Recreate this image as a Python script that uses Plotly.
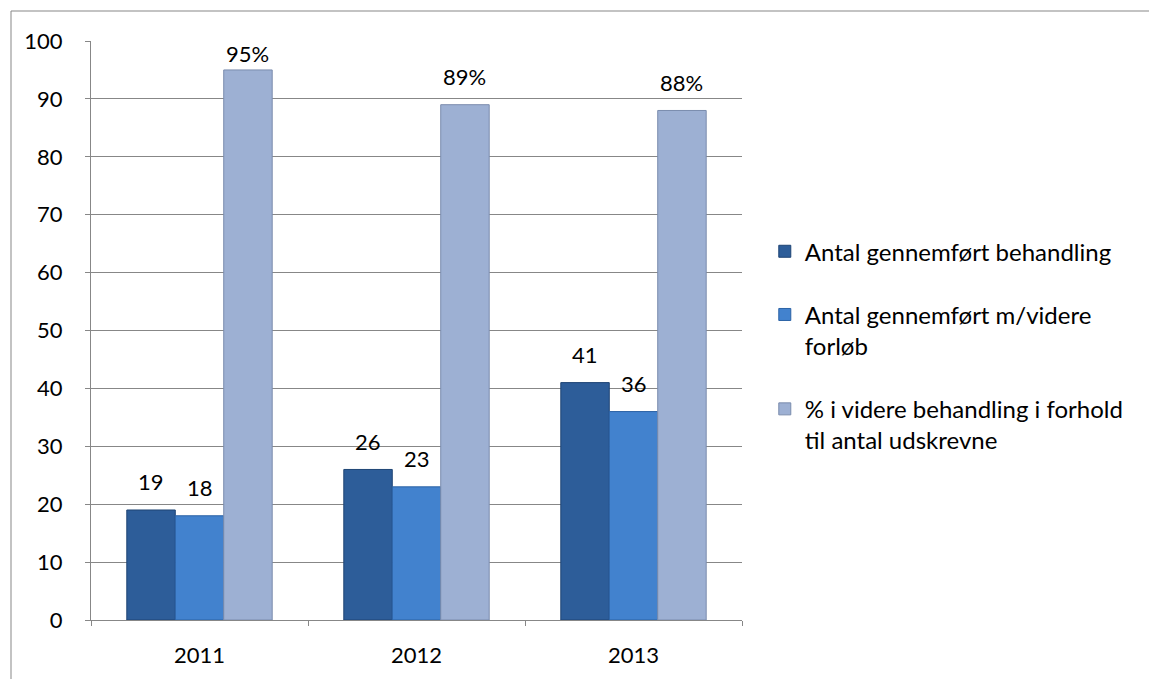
import plotly.graph_objects as go

years = ["2011", "2012", "2013"]
gennemfort = [19, 26, 41]
videre_forlob = [18, 23, 36]
pct_videre = [95, 89, 88]

names = [
    "Antal gennemført behandling",
    "Antal gennemført m/videre<br>forløb",
    "% i videre behandling i forhold<br>til antal udskrevne",
]
colors = ["#2D5D99", "#4282CE", "#9DB0D3"]
lines = ["#1E4474", "#2B62A5", "#7A8CAD"]

FONT = "Lato, 'Open Sans', sans-serif"

# layout geometry (pixels)
W, H = 1149, 679
L, R, T, B = 91, 407, 41, 59
plot_w = W - L - R
plot_h = H - T - B
BARGAP = 0.33
bar_w = (1 - BARGAP) / 3   # bar width in category units

fig = go.Figure()
series = [gennemfort, videre_forlob, pct_videre]
for i, vals in enumerate(series):
    fig.add_trace(go.Bar(
        x=years, y=vals, name=names[i],
        marker=dict(color=colors[i], line=dict(color=lines[i], width=1)),
        legendgroup=f"g{i}",
    ))

# data labels above bars (category axis: x given as category index)
label_off = 28 / plot_h * 100   # offset in data units
for i, vals in enumerate(series):
    for j, v in enumerate(vals):
        txt = f"{v}%" if i == 2 else f"{v}"
        fig.add_annotation(
            x=j + (i - 1) * bar_w, y=min(v + label_off, 97.9), xref="x", yref="y",
            text=txt, showarrow=False,
            yanchor="middle", xanchor="center",
            font=dict(size=22, family=FONT, color="#000000"),
        )

fig.update_layout(
    width=W, height=H,
    margin=dict(l=L, r=R, t=T, b=B, autoexpand=False),
    paper_bgcolor="white", plot_bgcolor="white",
    barmode="group", bargap=BARGAP, bargroupgap=0,
    font=dict(family=FONT, size=22, color="#000000"),
    showlegend=True,
    legend=dict(
        x=1.035, y=0.675, xanchor="left", yanchor="top",
        font=dict(size=24, family=FONT), valign="top",
        tracegroupgap=29, itemwidth=30,
        bgcolor="rgba(0,0,0,0)",
    ),
)
fig.update_yaxes(
    range=[0, 100], dtick=10, showgrid=True, gridcolor="#878787", gridwidth=1,
    showline=True, linecolor="#878787", linewidth=1,
    ticks="outside", ticklen=5, tickcolor="#878787",
    tickfont=dict(size=22, family=FONT), ticklabelstandoff=18,
    zeroline=False,
)
fig.update_xaxes(
    type="category", tickangle=0, range=[-0.5, 2.5],
    showline=True, linecolor="#878787", linewidth=1,
    ticks="outside", ticklen=5, tickcolor="#878787", tickson="boundaries",
    tickfont=dict(size=22, family=FONT), ticklabelstandoff=16,
)
# outer chart border (left and top edges visible)
bx = (11 - L) / plot_w
by = (H - B - 11) / plot_h
fig.add_shape(type="line", xref="paper", yref="paper",
              x0=bx, x1=1.7, y0=by, y1=by,
              line=dict(color="#878787", width=1))
fig.add_shape(type="line", xref="paper", yref="paper",
              x0=bx, x1=bx, y0=by, y1=-0.2,
              line=dict(color="#878787", width=1))

fig.write_html("out.html")
